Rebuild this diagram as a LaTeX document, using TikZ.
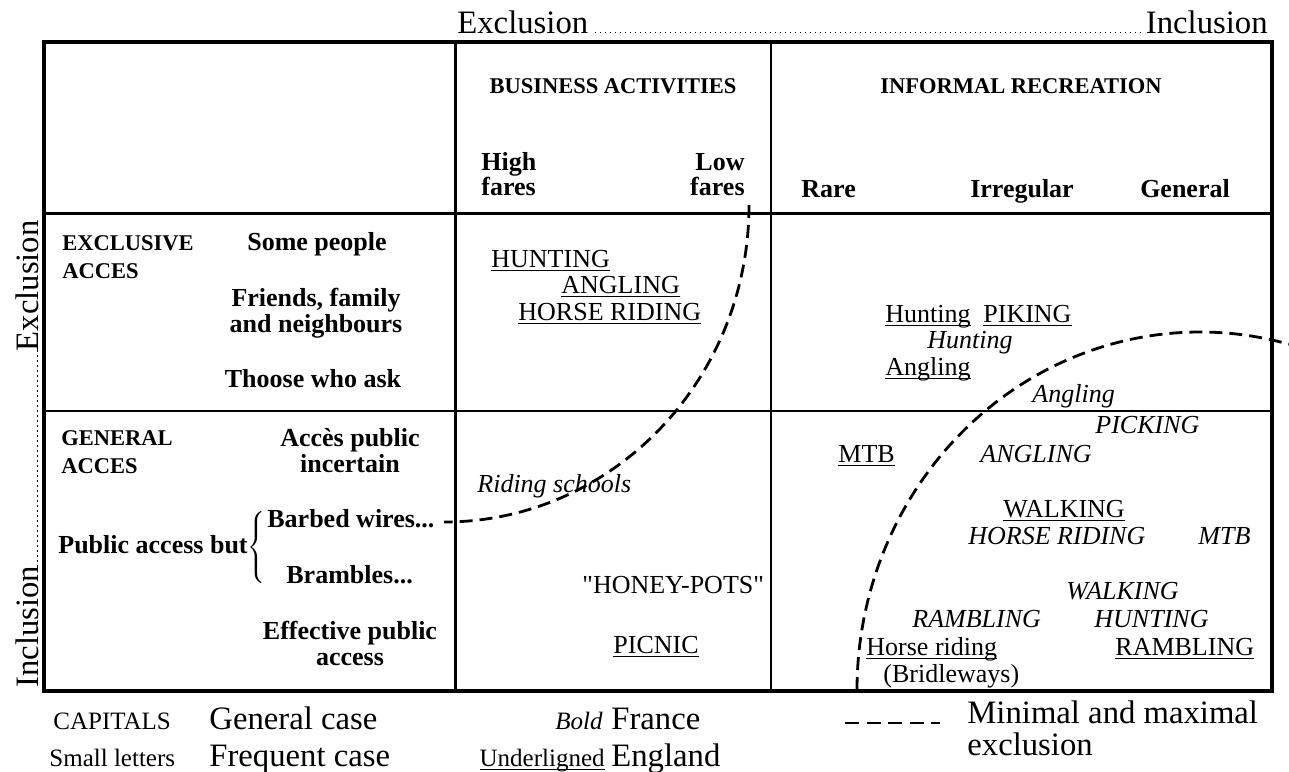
\documentclass[tikz,border=0pt]{standalone}
\usepackage{fontspec}
\setmainfont{Liberation Serif}[Ligatures=TeXOff]
\newsavebox{\ulbox}
\newcommand{\englandul}[1]{\sbox{\ulbox}{#1}\rlap{\rule[-1.8pt]{\wd\ulbox}{0.5pt}}\usebox{\ulbox}}
\tikzset{
  every node/.style={inner sep=0pt},
  item/.style={font=\fontsize{13}{13}\selectfont},
  gen/.style={font=\itshape\fontsize{13}{13}\selectfont},
  fr/.style={font=\bfseries\fontsize{13}{13}\selectfont},
  frcap/.style={font=\bfseries\fontsize{11.25}{14}\selectfont},
  legbig/.style={font=\fontsize{16.35}{16}\selectfont},
  legsmall/.style={font=\fontsize{12.5}{14}\selectfont},
  limit/.style={line width=1.4pt, dash pattern=on 6.5pt off 3.5pt},
  dots/.style={line width=0.7pt, dash pattern=on 0.7pt off 1.8pt},
}
\begin{document}
\begin{tikzpicture}[x=0.5pt, y=-0.5pt]
\useasboundingbox (0,0) rectangle (1289,771);

% axes
\node[legbig, anchor=base west] (hexcl) at (457,33) {Exclusion};
\node[legbig, anchor=base east] (hincl) at (1268,33) {Inclusion};
\draw[dots] ([xshift=3pt,yshift=0.4pt]hexcl.base east) -- ([xshift=-2pt,yshift=0.4pt]hincl.base west);
\node[legbig, rotate=90, anchor=base west] (vincl) at (38,688) {Inclusion};
\node[legbig, rotate=90, anchor=base east] (vexcl) at (38,220) {Exclusion};
\draw[dots] ([yshift=-3pt,xshift=-0.4pt]vincl.base east) -- ([yshift=2pt,xshift=-0.4pt]vexcl.base west);

% table
\draw[line width=2pt] (44,42) rectangle (1272,691);
\draw[line width=1.5pt] (44,213) -- (1272,213);
\draw[line width=1pt] (44,411) -- (1272,411);
\draw[line width=1.5pt] (455,42) -- (455,691);
\draw[line width=1pt] (771,42) -- (771,691);

% headings (multi-line nodes sit on their last line)
\node[frcap, anchor=base] (business) at (613,93) {BUSINESS ACTIVITIES};
\node[frcap, anchor=base] (informal) at (1021,93) {INFORMAL RECREATION};
\node[fr, anchor=base west, align=left] (high) at (481,195) {High\\[-0.5pt]fares};
\node[fr, anchor=base east, align=right] (low) at (745,195) {Low\\[-0.5pt]fares};
\node[fr, anchor=base west] (rare) at (801,197) {Rare};
\node[fr, anchor=base] (irregular) at (1022,197) {Irregular};
\node[fr, anchor=base] (general) at (1185,197) {General};

% access
\node[frcap, anchor=base west, align=left] (exclusive) at (62,278) {EXCLUSIVE\\ACCES};
\node[fr, anchor=base] (some) at (317,250) {Some people};
\node[fr, anchor=base, align=center] (friends) at (316,332) {Friends, family\\and neighbours};
\node[fr, anchor=base] (ask) at (313,387) {Thoose who ask};
\node[frcap, anchor=base west, align=left] (genacces) at (61,473) {GENERAL\\ACCES};
\node[fr, anchor=base, align=center] (incertain) at (350,472) {Accès public\\incertain};
\node[fr, anchor=base west] (publicbut) at (58,553) {Public access but$\left\{\vrule height 20pt depth 15pt width 0pt\right.$};
\node[fr, anchor=base west] (barbed) at (267,527) {Barbed wires...};
\node[fr, anchor=base west] (brambles) at (286,583) {Brambles...};
\node[fr, anchor=base, align=center] (effective) at (350,665) {Effective public\\access};

% business activities
\node[item, anchor=base west] (bhunting) at (491,267) {\englandul{HUNTING}};
\node[item, anchor=base west] (bangling) at (561,293) {\englandul{ANGLING}};
\node[item, anchor=base west] (bhorse) at (518,320) {\englandul{HORSE RIDING}};
\node[gen, anchor=base west] (schools) at (477,492) {Riding schools};
\node[item, anchor=base west] (honey) at (582,593) {"HONEY-POTS"};
\node[item, anchor=base west] (picnic) at (613,653) {\englandul{PICNIC}};

% informal recreation
\node[item, anchor=base west] (rhunting) at (885,322) {\englandul{Hunting}};
\node[item, anchor=base west] (rpiking) at (983,322) {\englandul{PIKING}};
\node[gen, anchor=base west] (ihunting) at (927,348) {Hunting};
\node[item, anchor=base west] (rangling) at (885,375) {\englandul{Angling}};
\node[gen, anchor=base west] (iangling) at (1032,402) {Angling};
\node[gen, anchor=base west] (picking) at (1095,433) {PICKING};
\node[item, anchor=base west] (mtb) at (838,462) {\englandul{MTB}};
\node[gen, anchor=base west] (angling) at (980,462) {ANGLING};
\node[item, anchor=base west] (walking) at (1003,517) {\englandul{WALKING}};
\node[gen, anchor=base west] (horse) at (968,544) {HORSE RIDING};
\node[gen, anchor=base west] (imtb) at (1198,544) {MTB};
\node[gen, anchor=base west] (iwalking) at (1066,599) {WALKING};
\node[gen, anchor=base west] (rambling) at (912,627) {RAMBLING};
\node[gen, anchor=base west] (hunting) at (1094,627) {HUNTING};
\node[item, anchor=base west] (bridle) at (866,655) {\englandul{Horse riding}};
\node[item, anchor=base west] (urambling) at (1115,655) {\englandul{RAMBLING}};
\node[item, anchor=base west] (bridleways) at (883,682) {(Bridleways)};

% limits of exclusion
\draw[limit] (749,205) arc[start angle=0, end angle=90, x radius=305, y radius=317];
\draw[limit] (857,690) arc[start angle=180, end angle=285, x radius=343, y radius=358];

% legend
\node[legsmall, anchor=base west] (capitals) at (53,729) {CAPITALS};
\node[legbig, anchor=base west] (gencase) at (209,729) {General case};
\node[legsmall, anchor=base west] (smallletters) at (49,766) {Small letters};
\node[legbig, anchor=base west] (freqcase) at (209,766) {Frequent case};
\node[legsmall, anchor=base east] (bold) at (603,729) {\itshape Bold};
\node[legbig, anchor=base west] (france) at (611,729) {France};
\node[legsmall, anchor=base east] (underligned) at (605,766) {\englandul{Underligned}};
\node[legbig, anchor=base west] (england) at (611,766) {England};
\coordinate (dashA) at (845,723);
\coordinate (dashB) at (940,723);
\draw[limit, dash pattern=on 7pt off 3.75pt] (dashA) -- (dashB);
\node[legbig, anchor=base west, align=left] (minmax) at (967,755) {Minimal and maximal\\exclusion};
\end{tikzpicture}
\end{document}
